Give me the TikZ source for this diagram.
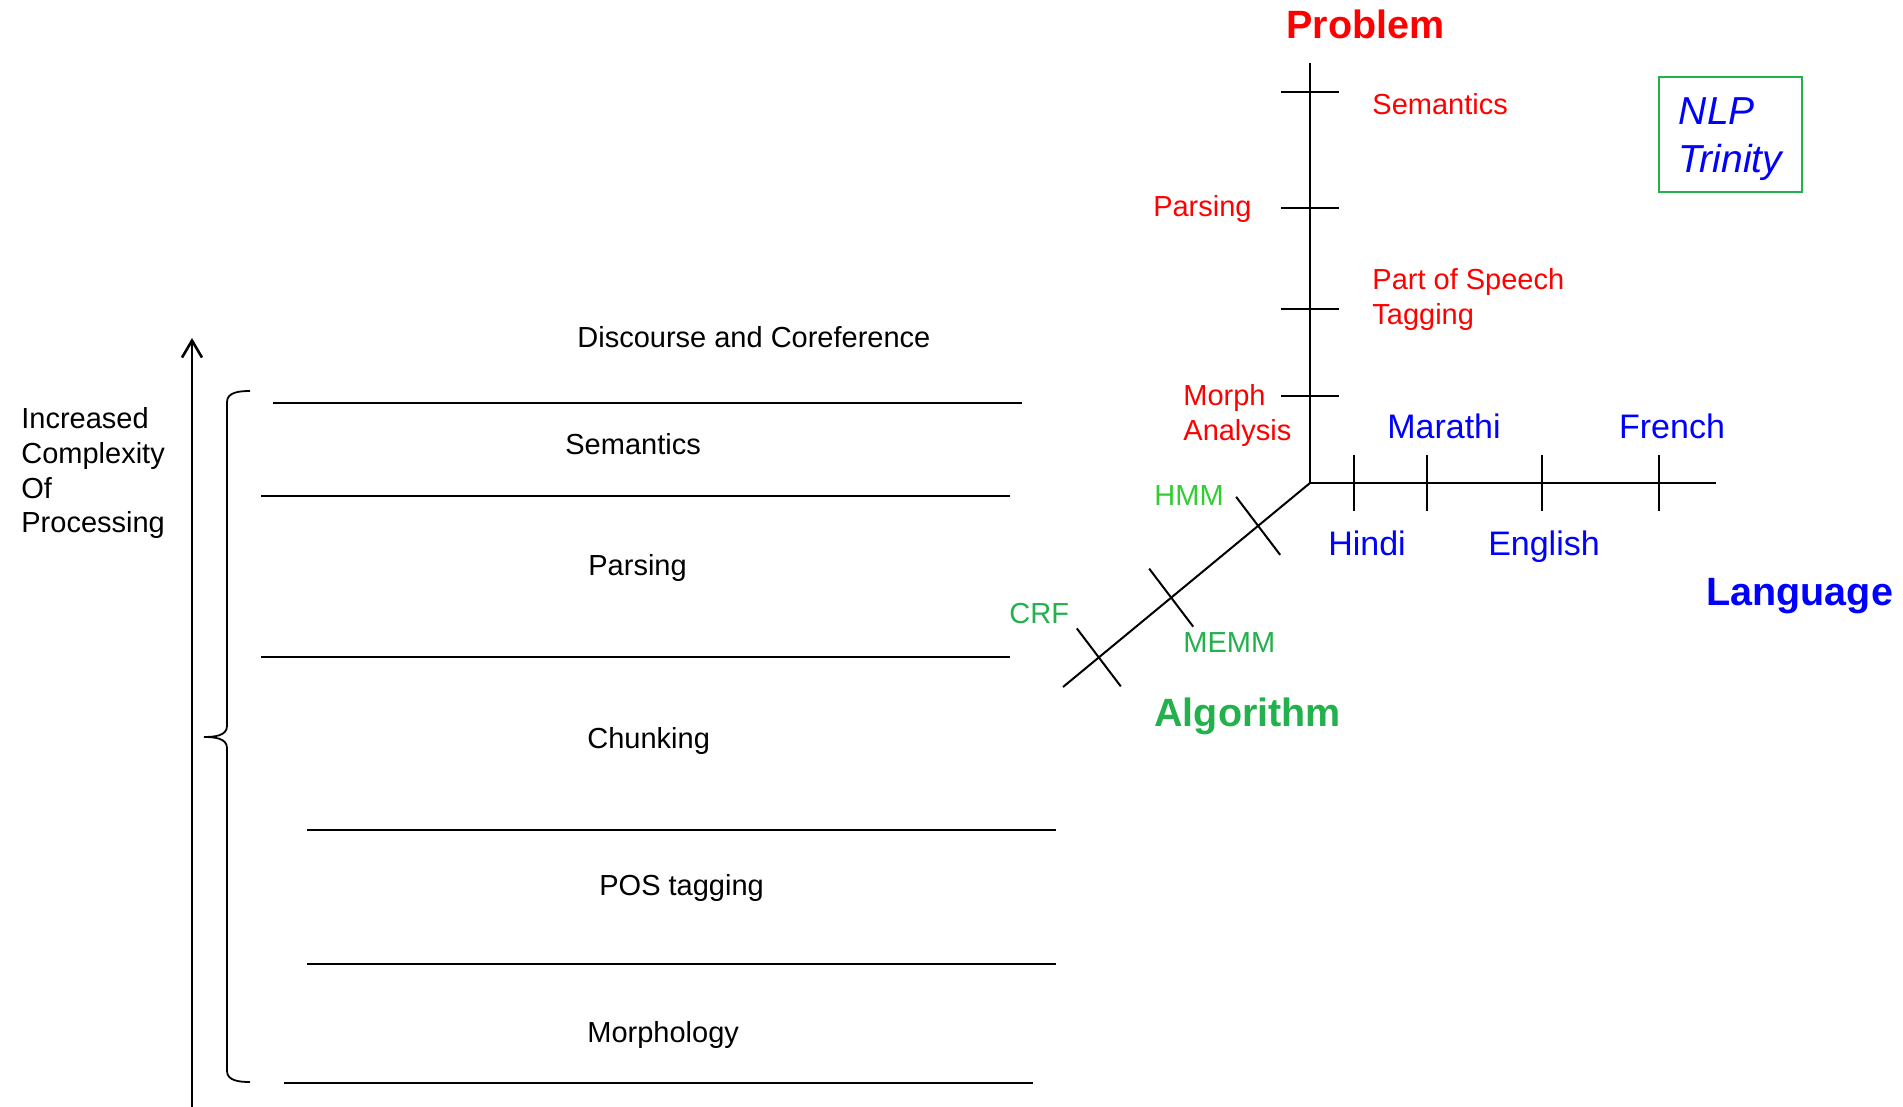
\documentclass[tikz,border=0pt]{standalone}
\usepackage{fontspec}
\setmainfont{Liberation Sans}
\usepackage{tikz}
\usetikzlibrary{arrows.meta}
\definecolor{probred}{HTML}{FF0000}
\definecolor{langblue}{HTML}{0000FF}
\definecolor{algogreen}{HTML}{22B14C}
\definecolor{hmmgreen}{HTML}{33CC33}

\begin{document}
\begin{tikzpicture}[x=0.5pt, y=-0.5pt,
  txt/.style={font=\fontsize{14.5}{17.4}\selectfont, inner sep=0pt},
  probtxt/.style={txt, text=probred},
  langtxt/.style={font=\fontsize{17}{20.4}\selectfont, inner sep=0pt, text=langblue},
  algotxt/.style={txt, text=algogreen},
  head/.style={font=\fontsize{19.75}{23.7}\selectfont\bfseries, inner sep=0pt},
  level/.style={line width=0.9pt},
  axis/.style={line width=1pt},
  up/.style={line width=1.3pt, -{Straight Barb[length=8.5pt, width=10pt]}}]
  \useasboundingbox (0,0) rectangle (1903,1107);
  % complexity arrow and brace
  \coordinate (abot) at (192,1107);
  \coordinate (atop) at (192,338);
  \draw[up] (abot) -- (atop);
  \node[txt, align=left, anchor=north west] (incr) at (21,407) {Increased\\Complexity\\Of\\Processing};
  \draw[level] (250,391) to[out=180,in=90] (227,402) -- (227,726) to[out=-90,in=0] (204,737)
    to[out=0,in=90] (227,748) -- (227,1071) to[out=-90,in=180] (250,1082);
  % processing levels
  \foreach \xa/\xb/\y in {273/1022/403, 261/1010/496, 261/1010/657, 307/1056/830, 307/1056/964, 284/1033/1083}
    \draw[level] (\xa,\y) -- (\xb,\y);
  \node[txt, anchor=base west] (disc) at (577,348) {Discourse and Coreference};
  \node[txt, anchor=base west] (sem) at (565,455) {Semantics};
  \node[txt, anchor=base west] (pars) at (588,575) {Parsing};
  \node[txt, anchor=base west] (chunk) at (587,748) {Chunking};
  \node[txt, anchor=base west] (pos) at (599,895) {POS tagging};
  \node[txt, anchor=base west] (morph) at (587,1042) {Morphology};
  % trinity axes
  \coordinate (O) at (1310,483);
  \coordinate (ptop) at (1310,63);
  \coordinate (lend) at (1716,483);
  \coordinate (aend) at (1063,687);
  \draw[axis] (ptop) -- (O) -- (lend);
  \draw[axis] (O) -- (aend);
  \foreach \y in {92,208,309,396}
    \draw[axis] (1281,\y) -- (1339,\y);
  \foreach \x in {1354,1427,1542,1659}
    \draw[axis] (\x,455) -- (\x,511);
  \path (O) -- (aend) coordinate[pos=0.21] (a1) coordinate[pos=0.562] (a2) coordinate[pos=0.855] (a3);
  \foreach \c in {a1,a2,a3}
    \draw[axis] (\c) ++(-22,-29) -- ++(44,58);
  % problem axis
  \node[head, text=probred, anchor=base west] (prob) at (1286,39) {Problem};
  \node[probtxt, anchor=base west] (psem) at (1372,115) {Semantics};
  \node[probtxt, anchor=base east] (ppars) at (1252,217) {Parsing};
  \node[probtxt, align=left, anchor=north west] (ppos) at (1372,268) {Part of Speech\\Tagging};
  \node[probtxt, align=left, anchor=north west] (pmorph) at (1183,384) {Morph\\Analysis};
  % language axis
  \node[langtxt, anchor=base] (marathi) at (1444,439) {Marathi};
  \node[langtxt, anchor=base] (french) at (1672,439) {French};
  \node[langtxt, anchor=base] (hindi) at (1367,555) {Hindi};
  \node[langtxt, anchor=base] (english) at (1544,555) {English};
  \node[head, text=langblue, anchor=base west] (lang) at (1706,605) {Language};
  % algorithm axis
  \node[txt, text=hmmgreen, anchor=base west] (hmm) at (1154,506) {HMM};
  \node[algotxt, anchor=base west] (crf) at (1009,623) {CRF};
  \node[algotxt, anchor=base west] (memm) at (1183,652) {MEMM};
  \node[head, text=algogreen, anchor=base west] (algo) at (1154,726) {Algorithm};
  \node[draw=algogreen, line width=1pt, minimum width=71.5pt, minimum height=57.5pt,
    font=\fontsize{19.5}{24}\selectfont\itshape, text=langblue, align=left, text depth=0pt] (trinity) at (1730.5,135) {NLP\\Trinity};
\end{tikzpicture}
\end{document}
